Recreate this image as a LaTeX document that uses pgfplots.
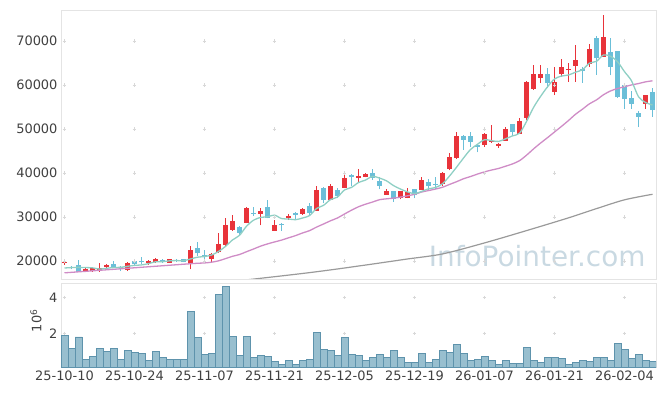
\documentclass[border=0pt]{standalone}
\usepackage{pgfplots}
\pgfplotsset{compat=1.18}
\usepackage{pgfplotstable}
\usepackage{fontspec}
\setmainfont{DejaVu Sans}
\definecolor{upred}{HTML}{E8333A}
\definecolor{dnblue}{HTML}{6BBFD8}
\definecolor{maA}{HTML}{8FCFC4}
\definecolor{maB}{HTML}{CF8CC6}
\definecolor{maC}{HTML}{9A9A9A}
\definecolor{volfill}{HTML}{98BFCF}
\definecolor{voledge}{HTML}{5E93AC}
\definecolor{framec}{HTML}{E4E4E4}
\definecolor{gridplus}{HTML}{D8D8D8}
\definecolor{txt}{HTML}{404040}
\definecolor{wm}{HTML}{C9D9E2}

\pgfplotstableread{
i o h l c
0 19500 20100 19100 19700
3 17700 18400 17400 18200
4 17700 18700 17600 18400
5 17950 19450 17550 18300
6 18650 19400 18300 19150
9 17950 19700 17700 19600
12 19650 20300 19100 19950
13 19850 20700 19600 20450
15 19650 20500 19500 20350
18 19600 23400 18100 22400
21 20450 21700 19700 21650
22 22000 26300 21900 23850
23 23650 29700 23500 28200
24 27100 30400 26900 29100
26 28700 32300 28600 32000
28 30700 32000 28100 31350
30 26900 29300 26850 28200
32 29700 30600 29300 30230
34 30750 32100 30450 31800
36 31450 37050 31400 36150
38 33850 37400 33800 37050
40 36600 40150 36500 38950
42 38900 40850 37800 39400
43 39100 40100 39000 39850
46 35100 36400 35000 35900
48 34250 35950 34000 35900
49 34400 36600 34250 35700
51 36150 39150 36100 38400
54 37500 40300 37050 40050
55 40850 44500 40600 43700
56 43400 49400 43200 48400
60 46350 49000 46000 48850
61 47100 51000 46900 47350
62 46200 46900 45700 46600
63 47350 50450 47300 50000
65 48850 52500 48850 51800
66 52550 60800 52100 60700
67 59100 64550 58900 62500
68 61650 64550 60500 62500
70 58500 64000 57700 60750
71 62500 65850 61900 64000
72 63400 65100 60750 63700
73 64400 69100 60750 65700
75 64750 69250 64150 68200
77 66450 75800 66400 70950
83 55700 57750 54550 57700
}\upT

\pgfplotstableread{
i o h l c
1 18600 18800 18100 18300
2 19000 20150 17500 17600
7 19300 20050 18400 18500
8 18600 18900 17700 18400
10 20000 20050 18800 19300
11 19900 21000 19200 19700
14 20300 20500 19500 19700
16 20250 20400 19800 20000
17 20350 20400 19700 19800
19 23000 24250 21200 21750
20 21400 22400 20400 21000
25 27800 27900 25750 26300
27 30900 32300 30200 30700
29 32250 33800 29700 29850
31 28350 28700 26900 28100
33 30900 31200 29300 30500
35 32550 33250 30500 30900
37 36600 36700 33100 33850
39 36050 36500 34250 34700
41 39650 39700 37050 39050
44 40000 40850 38350 38870
45 38200 39150 36300 37050
47 35900 35950 33500 34000
50 36300 36350 34250 35000
52 37950 38650 36150 37050
53 37500 39000 36300 37300
57 48400 48600 45250 47500
58 48400 49400 45850 47050
59 46350 46400 44700 46000
64 51050 51100 48400 49400
69 62500 63850 59250 60400
74 63650 64000 60500 63250
76 70700 71150 62350 66050
78 67450 70750 62200 64150
79 67700 67800 57100 57200
80 60000 60050 54550 56800
81 57050 58700 54500 55700
82 53700 54100 50400 52800
84 58500 59250 52800 54300
}\dnT

\pgfplotstableread{
i v
0 18400
1 18500
2 18550
3 18500
4 18440
5 18160
6 18330
7 18510
8 18550
9 18790
10 18990
11 19100
12 19390
13 19800
14 19820
15 20030
16 20090
17 20060
18 20450
19 20860
20 21010
21 21340
22 22150
23 23310
24 24780
25 25820
26 27890
27 29260
28 29890
29 30040
30 30420
31 29640
32 29546
33 29376
34 29766
35 30306
36 31916
37 32640
38 33950
39 34530
40 36140
41 36720
42 37830
43 38390
44 39224
45 38844
46 38214
47 37134
48 36344
49 35710
50 35300
51 35800
52 36410
53 36690
54 37560
55 39300
56 41300
57 43390
58 45340
59 46530
60 47560
61 47350
62 47170
63 47760
64 48440
65 49030
66 51700
67 54880
68 57380
69 59580
70 61370
71 62030
72 62270
73 62910
74 63480
75 64970
76 65380
77 66830
78 66520
79 65310
80 63030
81 60960
82 57330
83 56040
84 55460
}\maAT

\pgfplotstableread{
i v
0 17300
2 17530
4 17760
6 17990
8 18220
10 18450
12 18680
14 18910
16 19140
18 19370
19 19478
20 19548
21 19715
22 20028
23 20528
24 21063
25 21463
26 22105
27 22715
28 23363
29 23875
30 24320
31 24740
32 25254
33 25757
34 26362
35 26889
36 27697
37 28399
38 29132
39 29779
40 30672
41 31542
42 32319
43 32902
44 33390
45 33928
46 34123
47 34288
48 34515
49 34808
50 35148
51 35663
52 36004
53 36344
54 36756
55 37396
56 38009
57 38691
58 39191
59 39756
60 40251
61 40666
62 41026
63 41534
64 42060
65 42798
66 44038
67 45463
68 46793
69 48028
70 49315
71 50595
72 51928
73 53348
74 54508
75 55733
76 56615
77 57788
78 58643
79 59203
80 59600
81 60018
82 60328
83 60713
84 60958
}\maBT

\pgfplotstableread{
i v
26 15700
31 16600
35 17350
39 18180
44 19300
49 20450
54 21600
60 24100
66 26900
72 29800
76 31900
80 33900
84 35160
}\maCT

\pgfplotstableread{
i v
0 1.91
1 1.17
2 1.81
3 0.57
4 0.74
5 1.17
6 1.02
7 1.17
8 0.57
9 1.07
10 0.96
11 0.89
12 0.52
13 1.02
14 0.67
15 0.57
16 0.57
17 0.57
18 3.24
19 1.78
20 0.85
21 0.91
22 4.18
23 4.63
24 1.83
25 0.79
26 1.83
27 0.68
28 0.78
29 0.72
30 0.46
31 0.28
32 0.52
33 0.28
34 0.52
35 0.57
36 2.05
37 1.13
38 1.06
39 0.78
40 1.78
41 0.85
42 0.78
43 0.50
44 0.67
45 0.85
46 0.67
47 1.05
48 0.67
49 0.39
50 0.39
51 0.89
52 0.39
53 0.55
54 1.05
55 0.96
56 1.39
57 0.89
58 0.50
59 0.55
60 0.72
61 0.50
62 0.28
63 0.50
64 0.33
65 0.33
66 1.22
67 0.50
68 0.39
69 0.67
70 0.67
71 0.61
72 0.28
73 0.39
74 0.50
75 0.44
76 0.67
77 0.67
78 0.50
79 1.44
80 1.11
81 0.61
82 0.83
83 0.50
84 0.44
}\volT

\begin{document}
\begin{tikzpicture}
\path[use as bounding box] (-61bp,10bp) rectangle (604bp,-386bp);
\begin{axis}[
  at={(0,0)}, anchor=north west, scale only axis,
  width=595bp, height=269bp,
  xmin=-0.5, xmax=84.5, ymin=15900, ymax=77050,
  xtick={0,10,...,80}, xticklabels={},
  ytick={20000,30000,40000,50000,60000,70000},
  yticklabels={20000,30000,40000,50000,60000,70000},
  scaled y ticks=false, scaled x ticks=false,
  major tick length=0, axis line style={framec, line width=0.8bp},
  tick label style={font=\fontsize{13}{15}\selectfont, text=txt},
  /pgf/number format/assume math mode=true,
  clip=true,
]
\node[font=\fontsize{28}{30}\selectfont, text=wm, anchor=base east] at (axis cs:83.5,18800) {InfoPointer.com};
\addplot[only marks, mark=+, mark size=1.8bp, gridplus, line width=0.7bp, forget plot] coordinates {
(0,20000)(10,20000)(20,20000)(30,20000)(40,20000)(50,20000)(60,20000)(70,20000)(80,20000)
(0,30000)(10,30000)(20,30000)(30,30000)(40,30000)(50,30000)(60,30000)(70,30000)(80,30000)
(0,40000)(10,40000)(20,40000)(30,40000)(40,40000)(50,40000)(60,40000)(70,40000)(80,40000)
(0,50000)(10,50000)(20,50000)(30,50000)(40,50000)(50,50000)(60,50000)(70,50000)(80,50000)
(0,60000)(10,60000)(20,60000)(30,60000)(40,60000)(50,60000)(60,60000)(70,60000)(80,60000)
(0,70000)(10,70000)(20,70000)(30,70000)(40,70000)(50,70000)(60,70000)(70,70000)(80,70000)};
% wicks
\addplot[draw=none, mark=none, forget plot, error bars/.cd, y dir=plus, y explicit, error mark=none,
  error bar style={draw=upred, line width=1bp}] table[x=i, y=l, y error expr=\thisrow{h}-\thisrow{l}] {\upT};
\addplot[draw=none, mark=none, forget plot, error bars/.cd, y dir=plus, y explicit, error mark=none,
  error bar style={draw=dnblue, line width=1bp}] table[x=i, y=l, y error expr=\thisrow{h}-\thisrow{l}] {\dnT};
% bodies
\addplot[draw=none, mark=none, forget plot, error bars/.cd, y dir=plus, y explicit, error mark=none,
  error bar style={draw=upred, line width=4.3bp}] table[x=i, y=o, y error expr=\thisrow{c}-\thisrow{o}] {\upT};
\addplot[draw=none, mark=none, forget plot, error bars/.cd, y dir=plus, y explicit, error mark=none,
  error bar style={draw=dnblue, line width=4.3bp}] table[x=i, y=c, y error expr=\thisrow{o}-\thisrow{c}] {\dnT};
% moving averages
\addplot[maC, line width=1.2bp, smooth, mark=none] table[x=i, y=v] {\maCT};
\addplot[maB, line width=1.3bp, smooth, mark=none] table[x=i, y=v] {\maBT};
\addplot[maA, line width=1.3bp, smooth, mark=none] table[x=i, y=v] {\maAT};
\end{axis}

\begin{axis}[
  at={(0,-273bp)}, anchor=north west, scale only axis,
  width=595bp, height=84bp,
  xmin=-0.5, xmax=84.5, ymin=0.14, ymax=4.8,
  xtick={0,10,...,80},
  xticklabels={25-10-10,25-10-24,25-11-07,25-11-21,25-12-05,25-12-19,26-01-07,26-01-21,26-02-04},
  ytick={2,4}, yticklabels={2,4},
  scaled y ticks=false,
  major tick length=0, axis line style={framec, line width=0.8bp},
  tick label style={font=\fontsize{13}{15}\selectfont, text=txt},
  ylabel={10\textsuperscript{6}},
  ylabel style={font=\fontsize{13}{15}\selectfont, text=txt, at={(axis description cs:-0.042,0.55)}, anchor=center},
  /pgf/number format/assume math mode=true,
]
\addplot[only marks, mark=+, mark size=1.8bp, gridplus, line width=0.7bp, forget plot] coordinates {
(0,2)(10,2)(20,2)(30,2)(40,2)(50,2)(60,2)(70,2)(80,2)
(0,4)(10,4)(20,4)(30,4)(40,4)(50,4)(60,4)(70,4)(80,4)};
\addplot[ybar, bar width=1, fill=volfill, draw=voledge, line width=0.6bp] table[x=i, y=v] {\volT};
\end{axis}
\end{tikzpicture}
\end{document}
